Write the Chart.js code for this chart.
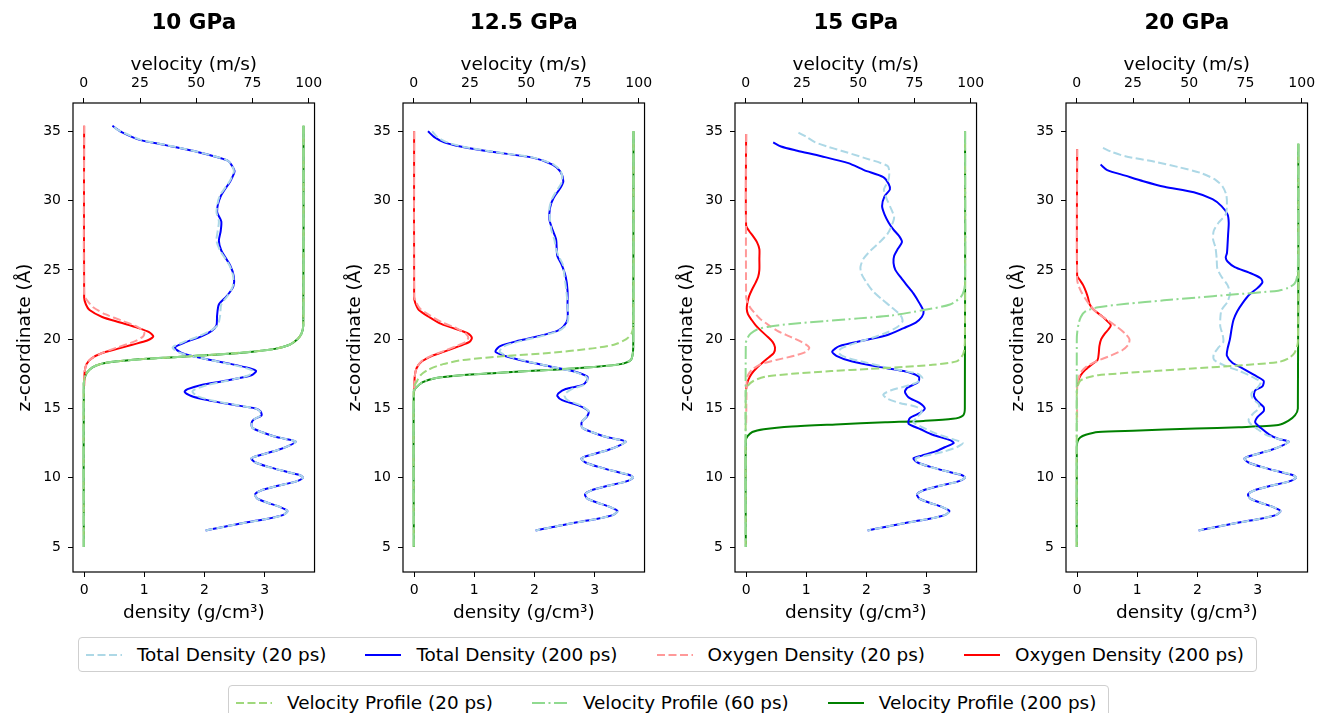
<!DOCTYPE html>
<html>
<head>
<meta charset="utf-8">
<script src="https://cdn.jsdelivr.net/npm/chart.js@4.4.1/dist/chart.umd.min.js"></script>
<style>
  body { margin: 0; width: 1320px; height: 713px; background: #fff; overflow: hidden; position: relative;
         font-family: 'DejaVu Sans', sans-serif; }
  .panel { position: absolute; top: 0; width: 329px; height: 630px; }
  .legend { position: absolute; display: flex; align-items: center; border: 1px solid #cfcfcf; border-radius: 4px;
            padding: 6px 12px 6px 7px; background: #fff; font-size: 18.4px; line-height: 21px; color: #000; white-space: nowrap; }
  .item { display: flex; align-items: center; margin-right: 39px; }
  .item:last-child { margin-right: 0; }
  .item svg { margin-right: 15px; }
</style>
</head>
<body>
<div class="panel" style="left:0px"><canvas id="c0"></canvas></div>
<div class="panel" style="left:330px"><canvas id="c1"></canvas></div>
<div class="panel" style="left:662px"><canvas id="c2"></canvas></div>
<div class="panel" style="left:993px"><canvas id="c3"></canvas></div>
<div class="legend" id="leg1" style="left:78px; top:637px"></div>
<div class="legend" id="leg2" style="left:228px; top:685px"></div>

<script>
//** DATA: each profile is a list of [z (Å), value] pairs */
const titles = ['10 GPa', '12.5 GPa', '15 GPa', '20 GPa'];

// solid region near the bottom, identical in every run
const substrate = [[13.9,2.78],[13.6,2.8],[13.3,2.95],[13.0,3.15],[12.8,3.35],[12.6,3.52],[12.3,3.4],[12.0,3.22],
  [11.7,2.98],[11.4,2.78],[11.1,2.85],[10.8,3.05],[10.5,3.3],[10.2,3.58],[10.0,3.64],[9.7,3.5],[9.4,3.2],[9.1,2.95],
  [8.8,2.84],[8.5,2.88],[8.2,3.05],[7.9,3.25],[7.6,3.38],[7.3,3.3],[7.0,3.0],[6.7,2.6],[6.4,2.25],[6.2,2.02]];
const below = (z) => substrate.filter(p => p[0] <= z);

// ---- 10 GPa
const total200_10 = [[35.4,0.47],[35.2,0.53],[34.9,0.64],[34.4,0.91],[34.0,1.35],[33.5,1.89],[32.9,2.38],[32.5,2.46],
  [32.1,2.5],[31.4,2.43],[30.3,2.27],[29.2,2.21],[28.5,2.28],[27.8,2.27],[27.1,2.24],[26.4,2.28],[25.3,2.43],[24.5,2.49],
  [23.8,2.48],[23.1,2.37],[22.5,2.24],[21.7,2.21],[21.0,2.2],[20.6,2.12],[20.2,1.95],[19.8,1.7],[19.4,1.51],[19.0,1.62],
  [18.6,1.98],[18.2,2.45],[17.9,2.75],[17.7,2.86],[17.4,2.78],[17.0,2.35],[16.7,1.95],[16.4,1.72],[16.2,1.67],[15.9,1.78],
  [15.6,2.05],[15.3,2.43],[15.0,2.85],[14.8,2.93],[14.5,2.95],[14.2,2.82]].concat(below(13.9));
const total20_10 = [[35.3,0.5],[35.1,0.56],[34.9,0.66],[34.4,0.93],[34.0,1.37],[33.5,1.9],[32.9,2.38],[32.5,2.46],
  [32.1,2.49],[31.4,2.42],[30.3,2.25],[29.2,2.2],[28.5,2.24],[27.8,2.22],[27.1,2.2],[26.4,2.26],[25.3,2.42],[24.5,2.48],
  [23.8,2.47],[23.1,2.38],[22.5,2.28],[21.7,2.26],[21.0,2.22],[20.6,2.1],[20.2,1.9],[19.8,1.66],[19.4,1.47],[19.0,1.6],
  [18.6,1.98],[18.2,2.42],[17.9,2.7],[17.7,2.8],[17.4,2.74],[17.0,2.38],[16.7,2.05],[16.4,1.85],[16.2,1.8],[15.9,1.88],
  [15.6,2.1],[15.3,2.45],[15.0,2.85],[14.8,2.92],[14.5,2.94],[14.2,2.82]].concat(below(13.9));
const oxygen200_10 = [[35.4,0],[23.0,0],[22.5,0.03],[22.1,0.09],[21.6,0.3],[21.2,0.6],[20.8,0.9],[20.5,1.08],[20.2,1.15],
  [19.9,1.05],[19.6,0.8],[19.3,0.55],[19.0,0.3],[18.6,0.12],[18.2,0.04],[17.7,0.01],[16.6,0]];
const oxygen20_10 = [[35.4,0],[23.2,0],[22.8,0.05],[22.3,0.15],[21.8,0.35],[21.3,0.65],[20.9,0.88],[20.5,1.0],[20.2,0.98],
  [19.8,0.82],[19.4,0.55],[19.0,0.3],[18.6,0.12],[18.2,0.04],[17.7,0.01],[16.8,0]];
const velocity_10 = [[35.4,97.7],[21.0,97.6],[20.4,96.8],[20.0,95],[19.6,91.5],[19.3,85],[19.1,75],[18.9,60],[18.7,40],
  [18.5,21],[18.3,10],[18.1,5.5],[17.8,2.5],[17.4,0.8],[16.8,0],[5.0,0]];

// ---- 12.5 GPa
const total200_12 = [[35.0,0.23],[34.6,0.33],[34.2,0.5],[33.9,0.77],[33.5,1.32],[33.1,1.97],[32.6,2.3],[32.1,2.43],
  [31.4,2.48],[30.9,2.43],[30.2,2.32],[29.5,2.26],[28.6,2.25],[27.9,2.3],[27.2,2.36],[26.5,2.37],[26.0,2.38],[25.4,2.45],
  [24.5,2.52],[23.5,2.55],[22.5,2.55],[21.4,2.55],[20.9,2.48],[20.6,2.38],[20.2,2.05],[19.9,1.75],[19.5,1.43],[19.1,1.35],
  [18.8,1.5],[18.4,1.85],[18.0,2.3],[17.7,2.63],[17.3,2.88],[17.0,2.87],[16.7,2.8],[16.4,2.52],[16.1,2.4],[15.9,2.38],
  [15.6,2.46],[15.2,2.74],[14.8,2.9],[14.4,2.87],[14.1,2.8]].concat(below(13.9));
const total20_12 = [[35.0,0.3],[34.6,0.38],[34.2,0.55],[33.9,0.8],[33.5,1.35],[33.1,1.98],[32.6,2.32],[32.1,2.44],
  [31.4,2.46],[30.9,2.4],[30.2,2.3],[29.5,2.25],[28.6,2.26],[27.9,2.28],[27.2,2.33],[26.5,2.36],[26.0,2.4],[25.4,2.47],
  [24.5,2.5],[23.5,2.53],[22.5,2.55],[21.4,2.56],[20.9,2.5],[20.6,2.4],[20.2,2.1],[19.9,1.8],[19.5,1.5],[19.1,1.42],
  [18.8,1.55],[18.4,1.88],[18.0,2.3],[17.7,2.62],[17.3,2.86],[17.0,2.88],[16.7,2.82],[16.4,2.62],[16.1,2.52],[15.9,2.5],
  [15.6,2.55],[15.2,2.78],[14.8,2.9],[14.4,2.86],[14.1,2.8]].concat(below(13.9));
const oxygen200_12 = [[35.0,0],[23.0,0],[22.6,0.02],[22.1,0.08],[21.6,0.25],[21.1,0.45],[20.7,0.72],[20.4,0.9],[20.1,0.96],
  [19.8,0.92],[19.5,0.75],[19.1,0.5],[18.8,0.3],[18.4,0.13],[17.9,0.04],[17.3,0.01],[16.2,0]];
const oxygen20_12 = [[35.0,0],[23.1,0],[22.7,0.03],[22.2,0.1],[21.7,0.27],[21.2,0.47],[20.8,0.7],[20.4,0.86],[20.1,0.9],
  [19.8,0.86],[19.5,0.7],[19.1,0.47],[18.8,0.28],[18.4,0.12],[17.9,0.04],[17.3,0.01],[16.4,0]];
const velocity200_12 = [[35.0,97.7],[19.8,97.6],[19.0,97.4],[18.5,96.5],[18.2,92],[18.0,80],[17.8,62],[17.6,40],
  [17.4,21],[17.2,10],[16.9,4],[16.5,1],[16.2,0],[5.0,0]];
const velocity20_12 = [[35.0,97.7],[21.0,97.6],[20.4,96.8],[20.0,94.5],[19.6,89],[19.3,78],[19.0,60],[18.8,42],
  [18.5,22],[18.2,13],[17.8,6.5],[17.4,3],[16.9,1.2],[16.5,0],[5.0,0]];

// ---- 15 GPa
const total200_15 = [[34.2,0.45],[33.9,0.58],[33.6,0.85],[33.2,1.25],[32.7,1.7],[32.2,1.96],[31.7,2.28],[31.2,2.37],
  [30.8,2.39],[30.3,2.3],[29.6,2.26],[29.0,2.3],[28.4,2.37],[27.9,2.45],[27.4,2.55],[27.0,2.59],[26.5,2.52],[26.0,2.46],
  [25.5,2.45],[25.0,2.48],[24.4,2.58],[23.9,2.67],[23.3,2.78],[22.6,2.88],[22.0,2.95],[21.6,2.92],[21.2,2.82],[20.8,2.62],
  [20.3,2.35],[19.9,1.95],[19.5,1.55],[19.1,1.43],[18.8,1.5],[18.4,1.75],[18.0,2.2],[17.7,2.62],[17.3,2.87],[16.9,2.86],
  [16.5,2.68],[16.2,2.64],[15.8,2.7],[15.4,2.88],[15.0,2.97],[14.7,2.9],[14.3,2.72],[13.9,2.7],[13.5,2.9],[13.1,3.1],
  [12.7,3.4],[12.5,3.45],[12.2,3.3],[11.9,3.15],[11.6,2.92],[11.4,2.78]].concat(below(11.1));
const total20_15 = [[34.9,0.87],[34.6,1.0],[34.2,1.15],[33.9,1.35],[33.6,1.58],[33.1,1.95],[32.5,2.35],[32.0,2.38],
  [31.4,2.36],[30.8,2.29],[30.2,2.33],[29.5,2.4],[28.8,2.46],[28.2,2.42],[27.6,2.35],[27.0,2.22],[26.4,2.07],[25.8,1.95],
  [25.2,1.9],[24.7,1.92],[24.1,2.0],[23.5,2.1],[22.9,2.25],[22.3,2.42],[21.7,2.57],[21.3,2.6],[20.9,2.52],[20.5,2.35],
  [20.1,2.1],[19.7,1.8],[19.3,1.57],[19.0,1.54],[18.7,1.65],[18.3,2.0],[17.9,2.4],[17.5,2.85],[17.2,2.93],[16.9,2.85],
  [16.6,2.65],[16.3,2.4],[16.0,2.28],[15.7,2.35],[15.4,2.55],[15.1,2.84],[14.8,2.92],[14.4,2.85],[14.0,2.78],[13.6,2.95],
  [13.2,3.15],[12.8,3.42],[12.5,3.6],[12.2,3.5],[11.9,3.3],[11.6,3.0],[11.4,2.82]].concat(below(11.1));
const oxygen200_15 = [[34.8,0],[28.2,0],[27.8,0.05],[27.4,0.12],[27.0,0.18],[26.5,0.22],[25.8,0.22],[25.0,0.22],[24.5,0.2],
  [24.1,0.16],[23.6,0.1],[23.1,0.05],[22.6,0.02],[22.2,0.01],[21.8,0.03],[21.4,0.09],[21.0,0.16],[20.6,0.25],[20.2,0.35],
  [19.8,0.44],[19.4,0.48],[19.0,0.46],[18.7,0.38],[18.3,0.27],[17.9,0.17],[17.5,0.09],[17.1,0.04],[16.7,0.01],[16.4,0]];
const oxygen20_15 = [[34.8,0],[23.0,0],[22.6,0.03],[22.2,0.08],[21.8,0.16],[21.4,0.25],[21.0,0.38],[20.6,0.52],[20.2,0.72],
  [19.8,0.92],[19.4,1.05],[19.1,1.0],[18.8,0.8],[18.5,0.5],[18.2,0.25],[17.8,0.1],[17.4,0.03],[17.0,0.01],[13.8,0]];
const velocity200_15 = [[35.0,97.5],[15.0,97.4],[14.5,96.6],[14.25,92],[14.1,79],[14.0,62],[13.85,40],[13.7,20.5],
  [13.5,8],[13.3,2.9],[13.0,0.8],[12.7,0],[5.0,0]];
const velocity20_15 = [[35.0,97.5],[19.8,97.4],[18.9,96.6],[18.4,93.7],[18.15,83],[18.0,70],[17.85,55],[17.7,38],
  [17.5,20.5],[17.3,9],[17.0,3.5],[16.6,0.7],[16.2,0],[5.0,0]];
const velocity60_15 = [[35.0,97.5],[23.9,97.4],[23.1,95.9],[22.5,90.8],[22.1,79],[21.7,64.4],[21.5,50],[21.3,35],
  [21.1,20],[20.9,10.2],[20.7,5],[20.4,2.2],[20.1,0.8],[19.7,0],[5.0,0]];

// ---- 20 GPa
const total200_20 = [[32.6,0.39],[32.2,0.5],[31.8,0.8],[31.4,1.1],[31.0,1.45],[30.6,1.94],[30.1,2.25],[29.6,2.4],
  [29.0,2.5],[28.4,2.52],[27.6,2.51],[26.8,2.5],[26.2,2.49],[25.9,2.47],[25.6,2.5],[25.2,2.62],[24.8,2.86],[24.4,3.05],
  [24.1,3.08],[23.7,3.0],[23.2,2.86],[22.6,2.75],[22.0,2.66],[21.4,2.6],[20.8,2.57],[20.0,2.54],[19.3,2.5],[18.8,2.49],
  [18.3,2.58],[17.9,2.75],[17.4,2.95],[17.0,3.1],[16.6,3.08],[16.3,2.96],[15.9,2.94],[15.5,3.0],[15.1,3.1],[14.8,3.1],
  [14.4,3.0],[14.0,2.96],[13.6,3.05],[13.1,3.2]].concat(below(12.8));
const total20_20 = [[33.8,0.43],[33.5,0.58],[33.2,0.8],[32.8,1.29],[32.4,1.7],[32.0,2.05],[31.5,2.3],[31.0,2.42],
  [30.4,2.48],[29.7,2.49],[29.0,2.47],[28.4,2.35],[27.8,2.27],[27.2,2.26],[26.6,2.3],[25.8,2.32],[25.1,2.33],[24.5,2.4],
  [23.9,2.5],[23.3,2.54],[22.7,2.5],[22.1,2.4],[21.5,2.38],[20.9,2.38],[20.3,2.42],[19.8,2.43],[19.4,2.35],[18.9,2.27],
  [18.5,2.28],[18.1,2.45],[17.7,2.7],[17.3,2.9],[16.9,3.05],[16.5,3.0],[16.1,2.9],[15.7,2.92],[15.3,3.02],[15.0,3.02],
  [14.6,2.92],[14.2,2.85],[13.9,2.88],[13.5,3.0],[13.1,3.14]].concat(below(12.8));
const oxygen200_20 = [[33.7,0],[24.6,0],[24.3,0.04],[23.9,0.1],[23.4,0.15],[23.0,0.18],[22.5,0.21],[22.1,0.28],[21.7,0.4],
  [21.3,0.5],[21.0,0.56],[20.7,0.52],[20.4,0.46],[20.0,0.4],[19.5,0.37],[19.0,0.36],[18.5,0.34],[18.2,0.25],[17.8,0.14],
  [17.4,0.06],[17.0,0.02],[16.6,0]];
const oxygen20_20 = [[33.7,0],[24.3,0],[23.9,0.02],[23.4,0.07],[22.9,0.14],[22.4,0.22],[21.9,0.33],[21.4,0.5],[20.9,0.66],
  [20.4,0.8],[20.0,0.87],[19.6,0.85],[19.2,0.75],[18.8,0.55],[18.4,0.32],[18.0,0.15],[17.6,0.06],[17.1,0.02],[16.5,0],[14.0,0]];
const velocity200_20 = [[34.1,98.5],[15.0,98.3],[14.5,97],[14.1,94],[13.8,89.6],[13.65,72],[13.55,53],[13.4,25],
  [13.3,9.5],[13.1,4],[12.9,1.5],[12.6,0.3],[12.2,0],[5.0,0]];
const velocity20_20 = [[34.1,98.5],[19.8,98.3],[19.0,96.8],[18.6,94],[18.35,89.6],[18.1,72],[17.9,53],[17.65,30],
  [17.4,9.5],[17.2,4],[17.0,1.5],[16.6,0.4],[16.2,0],[5.0,0]];
const velocity60_20 = [[34.1,98.5],[25.0,98.3],[24.4,97.8],[24.0,96.8],[23.7,94],[23.5,89.6],[23.2,68],[23.0,53],
  [22.8,38.7],[22.55,22],[22.3,9.5],[22.0,3.8],[21.6,1.8],[21.1,0.8],[20.5,0.2],[20.0,0],[5.0,0]];

const seriesNames = ['Total Density (20 ps)', 'Total Density (200 ps)', 'Oxygen Density (20 ps)', 'Oxygen Density (200 ps)',
  'Velocity Profile (20 ps)', 'Velocity Profile (60 ps)', 'Velocity Profile (200 ps)'];

//** which profile goes in which panel, in seriesNames order */
const panelSeries = [
  [total20_10, total200_10, oxygen20_10, oxygen200_10, velocity_10, velocity_10, velocity_10],
  [total20_12, total200_12, oxygen20_12, oxygen200_12, velocity20_12, velocity200_12, velocity200_12],
  [total20_15, total200_15, oxygen20_15, oxygen200_15, velocity20_15, velocity60_15, velocity200_15],
  [total20_20, total200_20, oxygen20_20, oxygen200_20, velocity20_20, velocity60_20, velocity200_20]
];

//** STYLES */
const DASH = [8, 3.5];
const DASHDOT = [13, 3.5, 2, 3.5];
const seriesStyle = [
  { color: '#add8e6', dash: DASH, axis: 'x' },
  { color: '#0000ff', dash: [], axis: 'x' },
  { color: '#ff9999', dash: DASH, axis: 'x' },
  { color: '#ff0000', dash: [], axis: 'x' },
  { color: '#9fd87c', dash: DASH, axis: 'x2' },
  { color: '#90da90', dash: DASHDOT, axis: 'x2' },
  { color: '#008000', dash: [], axis: 'x2' }
];
// first in this list is painted on top
const drawOrder = [5, 4, 2, 0, 3, 1, 6];

Chart.defaults.font.family = "'DejaVu Sans', sans-serif";
Chart.defaults.color = '#000';

//** draws the full axes frame */
const framePlugin = {
  id: 'frame',
  afterDatasetsDraw(chart) {
    const a = chart.chartArea, c = chart.ctx;
    c.save();
    c.strokeStyle = '#000';
    c.lineWidth = 1.2;
    c.strokeRect(a.left, a.top, a.right - a.left, a.bottom - a.top);
    c.restore();
  }
};

const tickGrid = { drawOnChartArea: false, drawTicks: true, tickLength: 5, color: '#000', lineWidth: 1 };

panelSeries.forEach((series, p) => {
  const datasets = drawOrder.map(i => ({
    label: seriesNames[i],
    data: series[i].map(pt => ({ x: pt[1], y: pt[0] })),
    showLine: true,
    pointRadius: 0,
    borderWidth: 2,
    tension: 0.25,
    fill: false,
    borderColor: seriesStyle[i].color,
    borderDash: seriesStyle[i].dash,
    xAxisID: seriesStyle[i].axis,
    yAxisID: 'y'
  }));

  new Chart(document.getElementById('c' + p), {
    type: 'scatter',
    data: { datasets: datasets },
    options: {
      responsive: true,
      maintainAspectRatio: false,
      animation: false,
      layout: { padding: { right: 9 } },
      plugins: {
        legend: { display: false },
        tooltip: { enabled: false },
        title: {
          display: true, text: titles[p], fullSize: false, color: '#000',
          font: { size: 21.5, weight: 'bold' }, padding: { top: 10.4, bottom: 8.8 }
        }
      },
      scales: {
        x: {
          type: 'linear', position: 'bottom', min: -0.185, max: 3.83,
          ticks: { stepSize: 1, includeBounds: false, font: { size: 14 }, padding: 4.6, color: '#000' },
          grid: tickGrid, border: { display: false },
          title: { display: true, text: 'density (g/cm³)', font: { size: 18.5 }, padding: { top: 0, bottom: 6 }, color: '#000' },
          afterFit(s) { s.height = 58; }
        },
        x2: {
          type: 'linear', position: 'top', min: -4.8, max: 102.6,
          ticks: { stepSize: 25, includeBounds: false, font: { size: 14 }, padding: 6.6, color: '#000' },
          grid: tickGrid, border: { display: false },
          title: { display: true, text: 'velocity (m/s)', font: { size: 18.5 }, padding: { top: 9, bottom: 0 }, color: '#000' },
          afterFit(s) { s.height = 58; }
        },
        y: {
          type: 'linear', position: 'left', min: 3.2, max: 37.04,
          ticks: { stepSize: 5, includeBounds: false, font: { size: 14 }, padding: 7, color: '#000' },
          grid: tickGrid, border: { display: false },
          title: { display: true, text: 'z-coordinate (Å)', font: { size: 18.5 }, padding: { top: 14, bottom: 0 }, color: '#000' },
          afterFit(s) { s.width = 73; }
        }
      }
    },
    plugins: [framePlugin]
  });
});

//** HTML LEGEND: two framed rows below the panels */
function addLegend(id, indices) {
  const box = document.getElementById(id);
  indices.forEach(i => {
    const st = seriesStyle[i];
    const item = document.createElement('div');
    item.className = 'item';
    item.innerHTML =
      '<svg width="36" height="10"><line x1="0" y1="5" x2="36" y2="5" stroke="' + st.color +
      '" stroke-width="2" stroke-dasharray="' + (st.dash.length ? st.dash.join(' ') : 'none') + '"/></svg>' +
      '<span>' + seriesNames[i] + '</span>';
    box.appendChild(item);
  });
}
addLegend('leg1', [0, 1, 2, 3]);
addLegend('leg2', [4, 5, 6]);
</script>
</body>
</html>
